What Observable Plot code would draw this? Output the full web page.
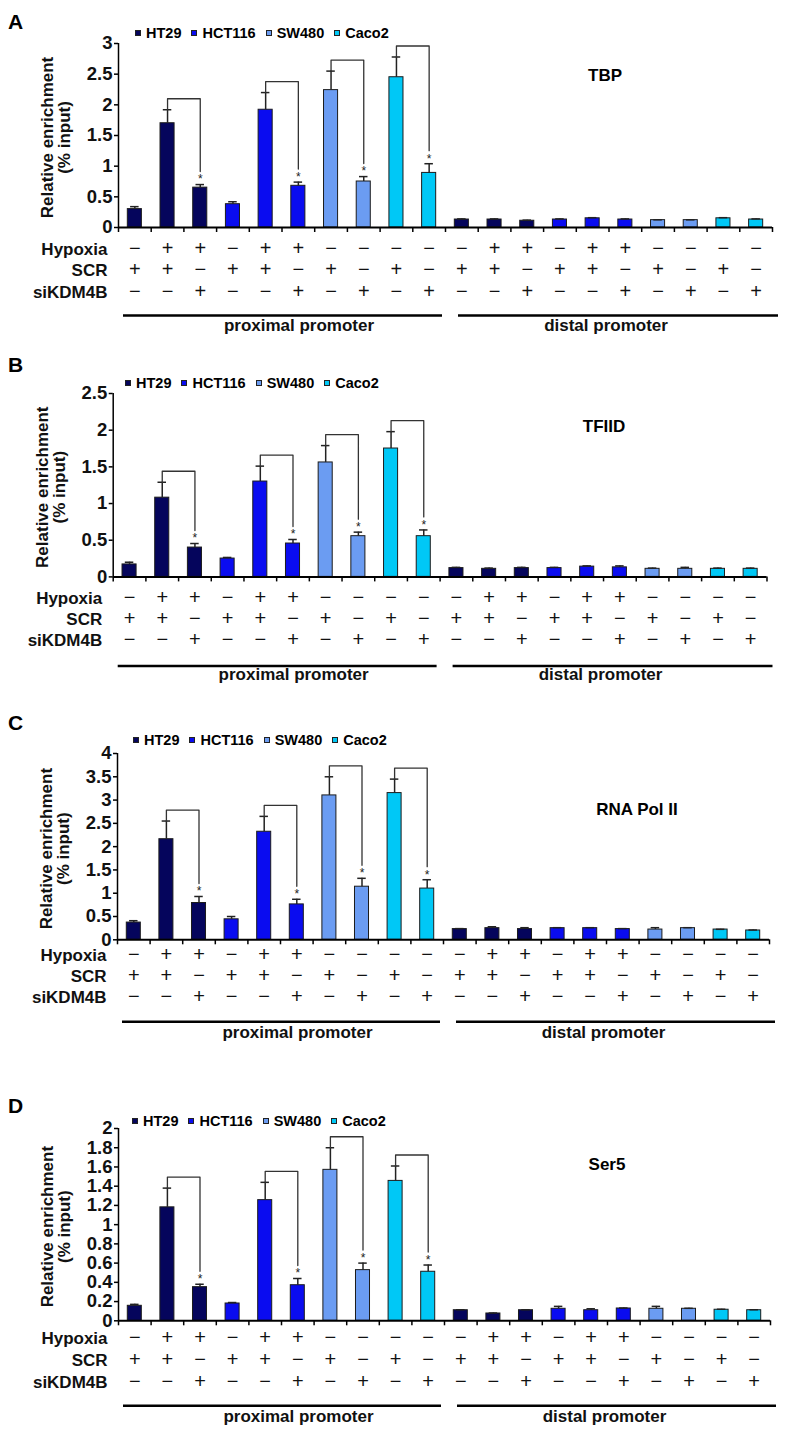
<!DOCTYPE html>
<html><head><meta charset="utf-8">
<script src="https://cdn.jsdelivr.net/npm/d3@7"></script>
<script src="https://cdn.jsdelivr.net/npm/@observablehq/plot@0.6"></script>
<style>
body{margin:0;background:#fff;font-family:"Liberation Sans",Arial,sans-serif;}
#fig{position:relative;width:788px;height:1437px;overflow:hidden;}
.abs{position:absolute;}
.letter{font-weight:bold;font-size:21px;line-height:22px;}
.legend{display:flex;align-items:center;font-weight:bold;font-size:14.5px;line-height:18px;white-space:nowrap;}
.sw{width:4px;height:4px;border:1px solid #222;margin-right:5px;}
.item{display:flex;align-items:center;margin-right:10px;}
.title{font-weight:bold;font-size:17px;transform:translate(-50%,-50%);white-space:nowrap;}
svg text{font-family:"Liberation Sans",Arial,sans-serif;}
</style></head><body><div id="fig"></div>
<script>
// ---------- data ----------
const cellLines = ["HT29", "HCT116", "SW480", "Caco2"];
const lineColors = ["#05055c", "#0a0cf0", "#6b9cf2", "#00c8f6"];
const promoters = ["proximal promoter", "distal promoter"];
const barLine = ["HT29","HT29","HT29","HCT116","HCT116","HCT116","SW480","SW480","Caco2","Caco2"];
const hypoxia = ["−","+","+","−","+","+","−","−","−","−"];
const scr     = ["+","+","−","+","+","−","+","−","+","−"];
const siKDM4B = ["−","−","+","−","−","+","−","+","−","+"];
const rowNames = ["Hypoxia", "SCR", "siKDM4B"];
const sigPairs = [[1,2],[4,5],[6,7],[8,9]];
const panelLetters = ["A", "B", "C", "D"];
const targets = ["TBP", "TFIID", "RNA Pol II", "Ser5"];
const yMaxes = [3, 2.5, 4, 2];
const yTicksA = [0, 0.5, 1, 1.5, 2, 2.5, 3];
const yTicksB = [0, 0.5, 1, 1.5, 2, 2.5];
const yTicksC = [0, 0.5, 1, 1.5, 2, 2.5, 3, 3.5, 4];
const yTicksD = [0, 0.2, 0.4, 0.6, 0.8, 1, 1.2, 1.4, 1.6, 1.8, 2];
const tbpMean = [0.30, 1.70, 0.65, 0.38, 1.92, 0.68, 2.24, 0.75, 2.45, 0.89, 0.13, 0.13, 0.11, 0.13, 0.15, 0.13, 0.12, 0.12, 0.15, 0.13];
const tbpSD   = [0.04, 0.22, 0.05, 0.04, 0.28, 0.06, 0.31, 0.08, 0.33, 0.15, 0.01, 0.01, 0.01, 0.01, 0.01, 0.01, 0.005, 0.005, 0.01, 0.01];
const tfiidMean = [0.17, 1.08, 0.40, 0.25, 1.30, 0.455, 1.56, 0.555, 1.75, 0.555, 0.12, 0.11, 0.12, 0.12, 0.14, 0.13, 0.11, 0.11, 0.11, 0.11];
const tfiidSD   = [0.03, 0.21, 0.055, 0.015, 0.21, 0.055, 0.23, 0.055, 0.23, 0.085, 0.01, 0.01, 0.01, 0.01, 0.01, 0.02, 0.01, 0.02, 0.01, 0.01];
const polMean = [0.37, 2.16, 0.79, 0.44, 2.32, 0.76, 3.10, 1.14, 3.15, 1.10, 0.23, 0.25, 0.23, 0.25, 0.25, 0.23, 0.22, 0.25, 0.22, 0.20];
const polSD   = [0.04, 0.39, 0.14, 0.06, 0.33, 0.11, 0.40, 0.18, 0.30, 0.19, 0.01, 0.03, 0.03, 0.01, 0.01, 0.01, 0.04, 0.01, 0.005, 0.01];
const ser5Mean = [0.156, 1.18, 0.35, 0.18, 1.255, 0.37, 1.57, 0.527, 1.455, 0.51, 0.11, 0.076, 0.11, 0.125, 0.11, 0.128, 0.125, 0.125, 0.115, 0.11];
const ser5SD   = [0.015, 0.20, 0.03, 0.01, 0.185, 0.07, 0.23, 0.073, 0.155, 0.07, 0.005, 0.005, 0.005, 0.025, 0.015, 0.005, 0.025, 0.005, 0.005, 0.005];

const panels = [
  {mean: tbpMean, sd: tbpSD, ticks: yTicksA},
  {mean: tfiidMean, sd: tfiidSD, ticks: yTicksB},
  {mean: polMean, sd: polSD, ticks: yTicksC},
  {mean: ser5Mean, sd: ser5SD, ticks: yTicksD}
];

// ---------- layout ----------
const layout = [
  {top:43,    bottom:227,   left:118,   right:772, rows:[27,48,70], rule:88, label:103, legendY:33,    legendX:135, letterY:22,    titleX:605, titleY:76},
  {top:393.3, bottom:576.7, left:112.7, right:766.5, rows:[27,48,69], rule:89, label:103, legendY:383,   legendX:125, letterY:365,   titleX:604, titleY:427},
  {top:752.7, bottom:939,   left:117,   right:769, rows:[21,42,63], rule:82, label:98,  legendY:739.5, legendX:133, letterY:722.7, titleX:637, titleY:810},
  {top:1127.7,bottom:1320,  left:118,   right:770, rows:[23,45,67], rule:85, label:101, legendY:1121,  legendX:132, letterY:1106,  titleX:607, titleY:1165}
];

const fig = document.getElementById("fig");
const color = d3.scaleOrdinal(cellLines, lineColors);
const FONT = '"Liberation Sans",Arial,sans-serif';

panels.forEach((p, k) => {
  const L = layout[k];
  const MT = 14, MB = 118;
  const plotH = L.bottom - L.top;
  const yMax = yMaxes[k];
  const perPx = yMax / plotH;
  const n = p.mean.length;
  const bars = d3.range(n).map(i => ({
    i, line: barLine[i % 10], hyp: hypoxia[i % 10], scr: scr[i % 10], si: siKDM4B[i % 10],
    mean: p.mean[i], top: p.mean[i] + p.sd[i]
  }));
  const groups = promoters.map((name, g) => ({name, first: g * 10, last: g * 10 + 9}));
  const bracketPts = sigPairs.flatMap(([a, b], j) => {
    const hy = bars[a].top + 11 * perPx;
    const end = bars[b].top + 13 * perPx;
    return [{j, x: a, y: bars[a].top}, {j, x: a, y: hy}, {j, x: b, y: hy}, {j, x: b, y: end}];
  });
  const boundaries = d3.range(n + 1).map(j => j - 0.5);
  const rowKeys = ["hyp", "scr", "si"];

  const marks = [
    Plot.rectY(bars, {x1: d => d.i - 0.215, x2: d => d.i + 0.215, y1: 0, y2: "mean",
      fill: d => color(d.line), stroke: "#1c1c1c", strokeWidth: 1}),
    Plot.ruleX(bars, {x: "i", y1: "mean", y2: "top", stroke: "#222", strokeWidth: 1.5}),
    Plot.ruleY(bars, {y: "top", x1: d => d.i - 0.13, x2: d => d.i + 0.13, stroke: "#222", strokeWidth: 1.5}),
    Plot.line(bracketPts, {x: "x", y: "y", z: "j", stroke: "#333", strokeWidth: 1.3}),
    Plot.text(sigPairs, {x: d => d[1], y: d => bars[d[1]].top, text: () => "*", dy: -5, fontSize: 12, fill: "#222"}),
    Plot.axisY({ticks: p.ticks, tickSize: 4, tickPadding: 2, tickFormat: d => String(d),
      fontSize: 18.5, fontWeight: "bold", label: null, strokeWidth: 1.5, fill: "#111"}),
    Plot.ruleX([-0.5], {stroke: "#000", strokeWidth: 1.5}),
    Plot.axisX({ticks: boundaries, tickSize: 5, tickFormat: () => "", label: null, strokeWidth: 1.5}),
    Plot.ruleY([0], {stroke: "#000", strokeWidth: 2}),
    Plot.text(["Relative enrichment\n(% input)"], {text: d => d, frameAnchor: "left", rotate: -90, dx: -62, dy: 2,
      textAnchor: "middle", fontSize: 17, fontWeight: "bold", lineHeight: 1.0, fill: "#111"})
  ];
  rowKeys.forEach((key, r) => {
    marks.push(Plot.text(bars, {x: "i", text: key, frameAnchor: "bottom", dy: L.rows[r], fontSize: 20, fill: "#111"}));
    marks.push(Plot.text([rowNames[r]], {text: d => d, frameAnchor: "bottom-left", dx: -11, dy: L.rows[r],
      textAnchor: "end", fontSize: 17, fontWeight: "bold", fill: "#111"}));
  });
  marks.push(Plot.ruleY([groups[0]], {y: () => 0, x1: d => d.first - 0.5, x2: d => d.last + 0.5, dy: L.rule, insetLeft: 5, insetRight: 3, stroke: "#000", strokeWidth: 2.5}));
  marks.push(Plot.ruleY([groups[1]], {y: () => 0, x1: d => d.first - 0.5, x2: d => d.last + 0.5, dy: L.rule, insetLeft: 13, insetRight: -6, stroke: "#000", strokeWidth: 2.5}));
  marks.push(Plot.text([groups[0]], {x: d => (d.first + d.last) / 2, text: "name", frameAnchor: "bottom", dy: L.label, dx: 17, fontSize: 17, fontWeight: "bold", fill: "#111"}));
  marks.push(Plot.text([groups[1]], {x: d => (d.first + d.last) / 2, text: "name", frameAnchor: "bottom", dy: L.label, dx: -3, fontSize: 17, fontWeight: "bold", fill: "#111"}));

  const svg = Plot.plot({
    width: 788,
    height: MT + plotH + MB,
    marginLeft: L.left,
    marginRight: 788 - L.right,
    marginTop: MT,
    marginBottom: MB,
    x: {domain: [-0.5, n - 0.5], axis: null},
    y: {domain: [0, yMax], axis: null},
    style: {fontFamily: FONT, overflow: "visible", background: "transparent"},
    marks
  });
  svg.style.position = "absolute";
  svg.style.left = "0px";
  svg.style.top = (L.top - MT) + "px";
  fig.appendChild(svg);

  const letter = document.createElement("div");
  letter.className = "abs letter";
  letter.textContent = panelLetters[k];
  letter.style.left = "8px";
  letter.style.top = (L.letterY - 11) + "px";
  fig.appendChild(letter);

  const legend = document.createElement("div");
  legend.className = "abs legend";
  legend.style.left = L.legendX + "px";
  legend.style.top = (L.legendY - 9) + "px";
  cellLines.forEach(c => {
    const it = document.createElement("div");
    it.className = "item";
    const sw = document.createElement("div");
    sw.className = "sw";
    sw.style.background = color(c);
    const t = document.createElement("span");
    t.textContent = c;
    it.appendChild(sw); it.appendChild(t);
    legend.appendChild(it);
  });
  fig.appendChild(legend);

  const title = document.createElement("div");
  title.className = "abs title";
  title.textContent = targets[k];
  title.style.left = L.titleX + "px";
  title.style.top = L.titleY + "px";
  fig.appendChild(title);
});
</script></body></html>
